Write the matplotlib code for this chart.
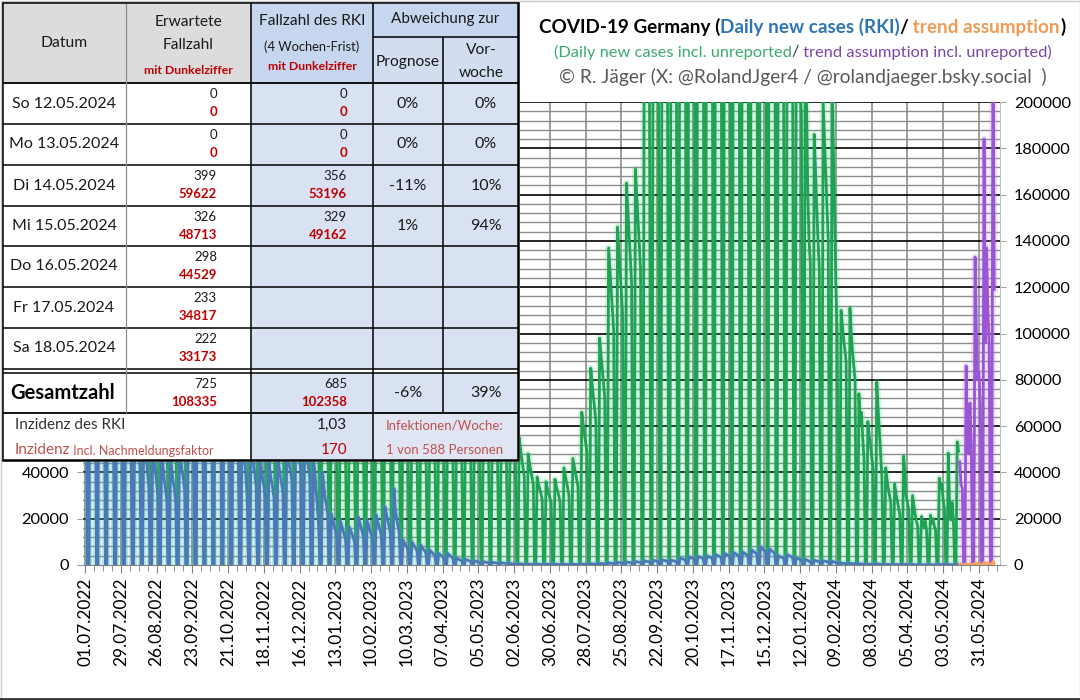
import datetime as dt
import numpy as np
import matplotlib
matplotlib.use("Agg")
import matplotlib.pyplot as plt
from matplotlib.patches import Rectangle

plt.rcParams['font.family'] = ['Lato', 'DejaVu Sans']

# ---------------- data: cases per reporting day, in thousands ----------------
first_day = dt.date(2022, 7, 1)

# Fri 01.07.2022 .. Mon 04.07.2022
rki_start = [100, 85, 0, 0]
unrep_start = [300, 250, 0, 0]

# one row per week: Tue, Wed, Thu, Fri, Sat, Sun, Mon
rki_2022 = [
    [140, 128, 118, 105, 88, 0, 0], [150, 138, 126, 115, 98, 0, 0], [138, 126, 114, 100, 86, 0, 0],
    [112, 100, 90, 80, 66, 0, 0], [90, 80, 71, 62, 51, 0, 0], [74, 66, 58, 50, 42, 0, 0],
    [62, 53, 46, 40, 33, 0, 0], [55, 47, 41, 36, 30, 0, 0], [50, 43, 37, 33, 28, 0, 0],
    [48, 41, 36, 33, 27, 0, 0], [53, 46, 41, 37, 32, 0, 0], [70, 62, 56, 50, 44, 0, 0],
    [98, 89, 81, 74, 66, 0, 0], [128, 118, 108, 99, 88, 0, 0], [158, 144, 130, 115, 96, 0, 0],
    [122, 106, 93, 81, 68, 0, 0], [90, 78, 68, 60, 50, 0, 0], [66, 55, 45, 38, 29, 0, 0],
    [56, 49, 43, 39, 34, 0, 0], [48, 42, 37, 34, 30, 0, 0], [45, 40, 36, 33, 29, 0, 0],
    [47, 42, 38, 35, 31, 0, 0], [52, 47, 43, 40, 36, 0, 0], [58, 52, 48, 45, 41, 0, 0],
    [55, 50, 45, 42, 38, 0, 0], [45, 40, 32, 25, 16, 0, 0],
]
rki_2023 = [
    [40, 34, 29, 26, 22, 0, 0], [22, 19.5, 17, 15, 13, 0, 0], [19, 17, 15, 13, 11, 0, 0],
    [16.4, 15, 13.5, 12, 10, 0, 0], [20.7, 18.5, 16.5, 14.5, 12, 0, 0], [19, 17, 15, 13.5, 11, 0, 0],
    [21.6, 19, 17, 15, 13, 0, 0], [25, 22, 19.5, 17, 14, 0, 0], [33, 24, 20, 17, 14, 0, 0],
    [10.8, 9.6, 8.6, 7.6, 6.5, 0, 0], [10, 9, 8, 7.1, 6, 0, 0], [8.6, 7.6, 6.8, 6, 5.1, 0, 0],
    [6.5, 5.8, 5.2, 4.6, 4, 0, 0], [5, 4.5, 4, 3.6, 3.1, 0, 0], [5, 4.4, 3.9, 3.5, 3, 0, 0],
    [3, 2.7, 2.4, 2.1, 1.8, 0, 0], [2.5, 2.2, 2, 1.8, 1.5, 0, 0], [1.8, 1.6, 1.4, 1.25, 1.1, 0, 0],
    [1.5, 1.35, 1.2, 1.05, 0.9, 0, 0], [1.2, 1.08, 0.97, 0.86, 0.75, 0, 0], [1.0, 0.9, 0.8, 0.72, 0.63, 0, 0],
    [0.6, 0.55, 0.5, 0.45, 0.4, 0, 0], [0.5, 0.45, 0.41, 0.37, 0.33, 0, 0], [0.42, 0.38, 0.35, 0.32, 0.28, 0, 0],
    [0.38, 0.35, 0.32, 0.29, 0.26, 0, 0], [0.35, 0.32, 0.3, 0.27, 0.24, 0, 0], [0.35, 0.32, 0.3, 0.27, 0.24, 0, 0],
    [0.32, 0.3, 0.28, 0.25, 0.22, 0, 0], [0.36, 0.33, 0.3, 0.28, 0.25, 0, 0], [0.42, 0.39, 0.36, 0.33, 0.3, 0, 0],
    [0.52, 0.48, 0.45, 0.41, 0.37, 0, 0], [0.7, 0.65, 0.6, 0.55, 0.5, 0, 0], [0.9, 0.84, 0.78, 0.72, 0.65, 0, 0],
    [1.1, 1.02, 0.95, 0.88, 0.8, 0, 0], [1.3, 1.2, 1.12, 1.04, 0.95, 0, 0], [1.5, 1.4, 1.3, 1.2, 1.1, 0, 0],
    [1.8, 1.68, 1.56, 1.45, 1.32, 0, 0], [2.0, 1.87, 1.74, 1.61, 1.47, 0, 0], [2.2, 2.05, 1.9, 1.77, 1.62, 0, 0],
    [2.0, 1.9, 1.8, 1.65, 1.5, 0, 0], [3.0, 2.8, 2.6, 2.4, 2.2, 0, 0], [3.5, 3.26, 3.03, 2.81, 2.57, 0, 0],
    [3.8, 3.54, 3.29, 3.05, 2.79, 0, 0], [4.0, 3.73, 3.46, 3.21, 2.94, 0, 0], [4.5, 4.2, 3.9, 3.6, 3.3, 0, 0],
    [5.0, 4.65, 4.33, 4.01, 3.67, 0, 0], [5.4, 5.03, 4.67, 4.33, 3.97, 0, 0], [5.6, 5.21, 4.85, 4.49, 4.12, 0, 0],
    [6.5, 6.05, 5.63, 5.21, 4.78, 0, 0], [7.8, 7.26, 6.75, 6.25, 5.73, 0, 0], [7.0, 6.5, 6.0, 5.5, 5.0, 0, 0],
    [4.0, 3.7, 3.4, 3.2, 3.0, 0, 0],
]
rki_2024 = [
    [4.5, 4.2, 3.9, 3.6, 3.3, 0, 0], [3.0, 2.8, 2.6, 2.4, 2.2, 0, 0], [2.5, 2.2, 1.9, 1.6, 1.4, 0, 0],
    [2.0, 1.86, 1.73, 1.6, 1.47, 0, 0], [1.8, 1.68, 1.56, 1.44, 1.32, 0, 0], [1.6, 1.4, 1.2, 1.0, 0.85, 0, 0],
    [0.78, 0.74, 0.7, 0.66, 0.62, 0, 0], [0.75, 0.68, 0.62, 0.58, 0.54, 0, 0], [0.5, 0.41, 0.44, 0.37, 0.31, 0, 0],
    [0.42, 0.38, 0.35, 0.32, 0.28, 0, 0], [0.53, 0.46, 0.39, 0.32, 0.26, 0, 0], [0.28, 0.25, 0.22, 0.2, 0.18, 0, 0],
    [0.24, 0.21, 0.19, 0.17, 0.15, 0, 0], [0.32, 0.27, 0.2, 0.18, 0.16, 0, 0], [0.2, 0.17, 0.15, 0.13, 0.11, 0, 0],
    [0.14, 0.12, 0.11, 0.13, 0.1, 0, 0], [0.14, 0.12, 0.13, 0.11, 0.1, 0, 0], [0.25, 0.22, 0.23, 0.19, 0.16, 0, 0],
    [0.324, 0.17, 0.13, 0.18, 0.13, 0, 0],
]
rki_last = [0.356, 0.329]          # Tue 14.05.2024, Wed 15.05.2024

unrep_2022 = [
    [420, 384, 354, 315, 264, 0, 0], [450, 414, 378, 345, 294, 0, 0], [414, 378, 342, 300, 258, 0, 0],
    [336, 300, 270, 240, 198, 0, 0], [270, 240, 213, 186, 153, 0, 0], [222, 198, 174, 150, 126, 0, 0],
    [186, 159, 138, 120, 99, 0, 0], [165, 141, 123, 108, 90, 0, 0], [150, 129, 111, 99, 84, 0, 0],
    [144, 123, 108, 99, 81, 0, 0], [159, 138, 123, 111, 96, 0, 0], [210, 186, 168, 150, 132, 0, 0],
    [294, 267, 243, 222, 198, 0, 0], [384, 354, 324, 297, 264, 0, 0], [474, 432, 390, 345, 288, 0, 0],
    [366, 318, 279, 243, 204, 0, 0], [270, 234, 204, 180, 150, 0, 0], [198, 165, 135, 114, 87, 0, 0],
    [168, 147, 129, 117, 102, 0, 0], [144, 126, 111, 102, 90, 0, 0], [135, 120, 108, 99, 87, 0, 0],
    [141, 126, 114, 105, 93, 0, 0], [156, 141, 129, 120, 108, 0, 0], [174, 156, 144, 135, 123, 0, 0],
    [165, 150, 135, 126, 114, 0, 0], [135, 120, 96, 75, 52, 0, 0],
]
unrep_2023 = [
    [124, 105, 90, 81, 68, 0, 0], [88, 78, 68, 60, 52, 0, 0], [80, 71, 63, 55, 47, 0, 0],
    [72, 66, 59, 53, 46, 0, 0], [91, 81, 73, 64, 53, 0, 0], [86, 77, 68, 61, 50, 0, 0],
    [99, 87, 78, 69, 60, 0, 0], [117, 103, 91, 80, 66, 0, 0], [158, 115, 96, 82, 67, 0, 0],
    [75, 67, 60, 53, 47, 0, 0], [75, 68, 60, 54, 47, 0, 0], [78, 69, 62, 55, 48, 0, 0],
    [72, 65, 58, 52, 47, 0, 0], [70, 63, 57, 52, 47, 0, 0], [80, 71, 63, 57, 49, 0, 0],
    [66, 60, 55, 50, 46, 0, 0], [70, 63, 58, 52, 47, 0, 0], [72, 65, 58, 53, 48, 0, 0],
    [68, 62, 56, 51, 47, 0, 0], [66, 60, 55, 51, 47, 0, 0], [62, 57, 53, 50, 47, 0, 0],
    [60, 56, 52, 49, 47, 0, 0], [55, 50, 46, 42, 38, 0, 0], [48, 44, 41, 38, 35, 0, 0],
    [38, 35, 33, 31, 28, 0, 0], [36, 33, 31, 29, 27, 0, 0], [37, 34, 32, 30, 27, 0, 0],
    [42, 39, 36, 33, 30, 0, 0], [46, 43, 40, 37, 34, 0, 0], [66, 61, 57, 53, 49, 0, 0],
    [85, 79, 73, 68, 62, 0, 0], [98, 91, 85, 79, 72, 0, 0], [137, 128, 119, 110, 101, 0, 0],
    [146, 136, 127, 118, 108, 0, 0], [165, 154, 143, 133, 122, 0, 0], [171, 160, 149, 139, 128, 0, 0],
    [260, 245, 232, 220, 208, 0, 0], [290, 272, 256, 241, 226, 0, 0], [310, 291, 273, 257, 240, 0, 0],
    [300, 285, 270, 255, 240, 0, 0], [380, 355, 332, 310, 288, 0, 0], [400, 372, 346, 322, 297, 0, 0],
    [420, 392, 364, 338, 311, 0, 0], [430, 400, 372, 345, 318, 0, 0], [440, 410, 381, 354, 325, 0, 0],
    [450, 419, 389, 361, 332, 0, 0], [460, 428, 398, 369, 339, 0, 0], [460, 428, 398, 369, 339, 0, 0],
    [480, 446, 415, 385, 354, 0, 0], [520, 484, 450, 417, 383, 0, 0], [470, 437, 406, 377, 347, 0, 0],
    [300, 279, 259, 240, 221, 0, 0],
]
unrep_2024 = [
    [330, 307, 285, 265, 244, 0, 0], [250, 232, 216, 205, 195, 0, 0], [240, 200, 160, 140, 130, 0, 0],
    [186, 170, 155, 140, 128, 0, 0], [200, 185, 170, 155, 140, 0, 0], [215, 180, 150, 120, 100, 0, 0],
    [110, 104, 98, 93, 88, 0, 0], [111, 100, 92, 86, 80, 0, 0], [74, 61, 66, 55, 46, 0, 0],
    [62, 56, 52, 47, 42, 0, 0], [79, 68, 58, 48, 38, 0, 0], [42, 37, 33, 30, 27, 0, 0],
    [35, 31, 28, 25, 22, 0, 0], [47, 40, 30, 27, 24, 0, 0], [30, 26, 22, 19, 17, 0, 0],
    [21, 18, 16, 19, 15, 0, 0], [21.5, 18, 20, 17, 15, 0, 0], [37.5, 33, 35, 28, 24, 0, 0],
    [48.3, 25.3, 19.4, 27, 19.4, 0, 0],
]
unrep_last = [53.2, 49.2]

# trend assumption, from Thu 16.05.2024
trend_start = dt.date(2024, 5, 16)
trend_unrep = [44.5, 34.8, 33.2, 0, 0, 86, 54, 48, 70, 52, 0, 0, 133, 100, 80, 83, 70, 0, 0,
               184, 96, 137, 110, 95, 0, 0, 230, 119]
trend_rki = [0.298, 0.233, 0.222, 0, 0, 0.58, 0.36, 0.32, 0.47, 0.35, 0, 0, 0.89, 0.67, 0.54, 0.56,
             0.47, 0, 0, 1.23, 0.64, 0.92, 0.74, 0.64, 0, 0, 1.54, 0.8]

tick_labels = ["01.07.2022", "29.07.2022", "26.08.2022", "23.09.2022", "21.10.2022", "18.11.2022",
               "16.12.2022", "13.01.2023", "10.02.2023", "10.03.2023", "07.04.2023", "05.05.2023",
               "02.06.2023", "30.06.2023", "28.07.2023", "25.08.2023", "22.09.2023", "20.10.2023",
               "17.11.2023", "15.12.2023", "12.01.2024", "09.02.2024", "08.03.2024", "05.04.2024",
               "03.05.2024", "31.05.2024"]
y_ticks = [0, 20000, 40000, 60000, 80000, 100000, 120000, 140000, 160000, 180000, 200000]
y_ticks_left_visible = [0, 20000, 40000]   # the rest sit under the table

# table
tbl_dates = ["So 12.05.2024", "Mo 13.05.2024", "Di 14.05.2024", "Mi 15.05.2024",
             "Do 16.05.2024", "Fr 17.05.2024", "Sa 18.05.2024"]
tbl_expected = ["0", "0", "399", "326", "298", "233", "222"]
tbl_expected_dark = ["0", "0", "59622", "48713", "44529", "34817", "33173"]
tbl_rki = ["0", "0", "356", "329", "", "", ""]
tbl_rki_dark = ["0", "0", "53196", "49162", "", "", ""]
tbl_dev_forecast = ["0%", "0%", "-11%", "1%", "", "", ""]
tbl_dev_week = ["0%", "0%", "10%", "94%", "", "", ""]
tot_expected, tot_expected_dark = "725", "108335"
tot_rki, tot_rki_dark = "685", "102358"
tot_dev_forecast, tot_dev_week = "-6%", "39%"
inz_rki, inz_dark = "1,03", "170"
inf_text = ["Infektionen/Woche:", "1 von 588 Personen"]

# ---------------- assemble series ----------------
def flat(start, *blocks):
    out = list(start)
    for b in blocks:
        for row in b:
            out.extend(row)
    return out

rki = np.array(flat(rki_start, rki_2022, rki_2023, rki_2024) + rki_last) * 1000
unrep = np.array(flat(unrep_start, unrep_2022, unrep_2023, unrep_2024) + unrep_last) * 1000
days = np.arange(len(rki))
t0 = (trend_start - first_day).days
tdays = np.arange(t0, t0 + len(trend_unrep))
tr_unrep = np.array(trend_unrep) * 1000
tr_rki = np.array(trend_rki) * 1000

tick_days = [(dt.datetime.strptime(s, "%d.%m.%Y").date() - first_day).days for s in tick_labels]

# ---------------- figure ----------------
W, H = 1080, 700
fig = plt.figure(figsize=(W / 100, H / 100), dpi=100)
fig.patch.set_facecolor('white')

PL, PR, PT, PB = 83, 1000, 102, 565
ax = fig.add_axes([PL / W, 1 - PB / H, (PR - PL) / W, (PB - PT) / H])
ax.set_facecolor('white')
ax.set_xlim(-1.6, 716.5)
ax.set_ylim(0, 200000)

for y in range(4000, 200001, 4000):
    if y % 20000:
        ax.axhline(y, color='#8E8E8E', lw=1.0, zorder=0.5)
for y in y_ticks[1:]:
    ax.axhline(y, color='black', lw=1.2, zorder=0.6)
for d in tick_days:
    ax.axvline(d, color='#8E8E8E', lw=1.2, zorder=0.55)

# series with soft glow
ax.plot(days, unrep, color='#2ECC71', alpha=0.22, lw=4.8, zorder=2)
ax.plot(days, unrep, color='#1FA253', lw=2.0, zorder=3)
ax.plot(days, rki, color='#5DADE2', alpha=0.22, lw=4.8, zorder=4)
ax.plot(days, rki, color='#4A78B8', lw=2.0, zorder=5)
ax.plot(tdays, tr_unrep, color='#B57EDC', alpha=0.25, lw=4.8, zorder=6)
ax.plot(tdays, tr_unrep, color='#9A55D4', lw=2.0, zorder=7)
ax.plot(tdays, tr_rki, color='#F0A35E', lw=2.0, zorder=8)

ax.set_xticks(tick_days)
ax.set_xticklabels(tick_labels, rotation=90)
ax.set_xticks(np.arange(0, 717, 7), minor=True)
ax.tick_params(axis='x', which='major', length=6, color='#808080', labelsize=12.5, pad=3)
ax.tick_params(axis='x', which='minor', length=4, color='#808080')
ax.set_yticks(y_ticks)
ax.set_yticklabels([str(v) for v in y_ticks])
ax.tick_params(axis='y', left=True, right=True, labelleft=False, labelright=True,
               length=4, color='#A6A6A6', labelsize=11.8, pad=6)
for s in ['top', 'left']:
    ax.spines[s].set_visible(False)
ax.spines['right'].set_color('#BFBFBF')
ax.spines['bottom'].set_color('#808080')

sec = ax.secondary_yaxis('left')
sec.set_yticks(y_ticks_left_visible)
sec.set_yticklabels([str(v) for v in y_ticks_left_visible])
sec.tick_params(axis='y', length=4, color='#A6A6A6', labelsize=11.8, pad=6)
sec.spines['left'].set_visible(False)

# ---------------- overlay: table and title ----------------
ov = fig.add_axes([0, 0, 1, 1], zorder=10)
ov.set_xlim(0, W)
ov.set_ylim(H, 0)
ov.axis('off')

RED = '#C00000'
RED2 = '#C0504D'

def box(x0, y0, x1, y1, fc):
    ov.add_patch(Rectangle((x0, y0), x1 - x0, y1 - y0, facecolor=fc, edgecolor='none', zorder=1))

def hl(x0, x1, y, c='black', lw=1.1):
    ov.plot([x0, x1], [y, y], color=c, lw=lw, solid_capstyle='butt', zorder=3)

def vl(x, y0, y1, c='black', lw=1.1):
    ov.plot([x, x], [y0, y1], color=c, lw=lw, solid_capstyle='butt', zorder=3)

def tx(x, y, s, fs=11, c='#1A1A1A', ha='center', w='normal'):
    return ov.text(x, y, s, fontsize=fs, color=c, ha=ha, va='center', fontweight=w, zorder=4)

X = [2, 126, 251, 373, 443, 518]
R = [83, 124, 165, 206, 246, 287, 328, 369]
TOT0, TOT1, INC1 = 373, 413, 460

box(0, 0, 520, 462, 'white')
box(X[0], 2, X[2], R[0], '#DCDCDC')
box(X[2], 2, X[3], R[0], '#C6D6EE')
box(X[3], 2, X[5], 37, '#C6D6EE')
box(X[3], 37, X[5], R[0], '#D2DDF0')
box(X[2], R[0], X[5], R[-1], '#D9E2F2')
box(X[2], TOT0, X[5], TOT1, '#D9E2F2')
box(X[2], TOT1, X[3], INC1, '#D9E2F2')
box(X[3], TOT1, X[5], INC1, '#DFE5F2')

hl(X[3], X[5], 37)
for y in R:
    hl(X[0], X[5], y, lw=1.3 if y == R[0] else 1.1)
hl(X[0], X[5], TOT0)
hl(X[0], X[5], TOT1, lw=1.3)
vl(X[1], 2, TOT1, c='#8C8C8C', lw=0.9)
vl(X[2], 2, INC1)
vl(X[3], 2, INC1)
vl(X[4], 37, TOT1)
ov.add_patch(Rectangle((X[0], 2), X[5] - X[0], INC1 - 2, facecolor='none',
                       edgecolor='black', lw=1.8, zorder=5))

# header texts
tx(64, 43, "Datum", fs=11.3)
tx(188, 22, "Erwartete", fs=11.2)
tx(188, 45, "Fallzahl", fs=11.2)
tx(188, 70, "mit Dunkelziffer", fs=8.8, c=RED, w='bold')
tx(312, 21, "Fallzahl des RKI", fs=11.2)
tx(312, 47, "(4 Wochen-Frist)", fs=9.3)
tx(312, 67, "mit Dunkelziffer", fs=8.8, c=RED, w='bold')
tx(445, 19, "Abweichung zur", fs=11)
tx(408, 62, "Prognose", fs=11.2)
tx(481, 50, "Vor-", fs=11.2)
tx(481, 73, "woche", fs=11.2)

for i in range(7):
    y0, y1 = R[i], R[i + 1]
    yc = (y0 + y1) / 2
    tx(64, yc, tbl_dates[i], fs=11.5)
    tx(217, y0 + 11, tbl_expected[i], fs=9.5, ha='right')
    tx(217, y0 + 29, tbl_expected_dark[i], fs=9.5, c=RED, ha='right', w='bold')
    if tbl_rki[i]:
        tx(347, y0 + 11, tbl_rki[i], fs=9.5, ha='right')
        tx(347, y0 + 29, tbl_rki_dark[i], fs=9.5, c=RED, ha='right', w='bold')
    if tbl_dev_forecast[i]:
        tx(408, yc, tbl_dev_forecast[i], fs=11.5)
        tx(486, yc, tbl_dev_week[i], fs=11.5)

yc = (TOT0 + TOT1) / 2
tx(63, yc, "Gesamtzahl", fs=14.5, w='bold', c='black')
tx(217, TOT0 + 11, tot_expected, fs=9.5, ha='right')
tx(217, TOT0 + 29, tot_expected_dark, fs=9.5, c=RED, ha='right', w='bold')
tx(347, TOT0 + 11, tot_rki, fs=9.5, ha='right')
tx(347, TOT0 + 29, tot_rki_dark, fs=9.5, c=RED, ha='right', w='bold')
tx(408, yc, tot_dev_forecast, fs=11.5)
tx(486, yc, tot_dev_week, fs=11.5)

tx(15, 425, "Inzidenz des RKI", fs=11, c='#333333', ha='left')
t_inz = tx(15, 450, "Inzidenz", fs=11, c=RED2, ha='left')
fig.canvas.draw()
rend = fig.canvas.get_renderer()
wi = t_inz.get_window_extent(renderer=rend).width
tx(15 + wi, 451, " Incl. Nachmeldungsfaktor", fs=9, c=RED2, ha='left')
tx(347, 425, inz_rki, fs=11, ha='right')
tx(347, 450, inz_dark, fs=11, c=RED, ha='right')
tx(445, 425, inf_text[0], fs=9.5, c=RED2)
tx(445, 450, inf_text[1], fs=9.5, c=RED2)

# title (multi-coloured lines)
def colored_line(pieces, y, fs, weight, cx, target):
    ts = [ov.text(0, y, s, color=c, fontsize=fs, fontweight=weight, ha='left',
                  va='center', zorder=6) for s, c in pieces]
    ws = [t.get_window_extent(renderer=rend).width for t in ts]
    scale = target / sum(ws)
    for t in ts:
        t.set_fontsize(fs * scale)
    ws = [t.get_window_extent(renderer=rend).width for t in ts]
    x = cx - sum(ws) / 2
    for t, w in zip(ts, ws):
        t.set_x(x)
        x += w

colored_line([("COVID-19 Germany (", 'black'), ("Daily new cases (RKI)", '#2E75B6'),
              ("/", 'black'), (" trend assumption", '#EE9B55'), (")", 'black')],
             27, 12.5, 'bold', 802, 527)
colored_line([("(Daily new cases incl. unreported", '#3BAA6C'), ("/", '#333333'),
              (" trend assumption incl. unreported)", '#7B44A8')],
             52, 11, 'normal', 803, 497)
colored_line([("© R. Jäger (X: @RolandJger4 / @rolandjaeger.bsky.social  )", '#595959')],
             77, 12, 'normal', 803, 485)

# frame
ov.add_patch(Rectangle((0.5, 0.5), W - 1, H - 1.5, facecolor='none', edgecolor='#C8C8C8',
                       lw=1, zorder=7))
ov.plot([0, W], [698.5, 698.5], color='#333333', lw=2, zorder=7)

fig.savefig('out.png', dpi=100, facecolor='white')
